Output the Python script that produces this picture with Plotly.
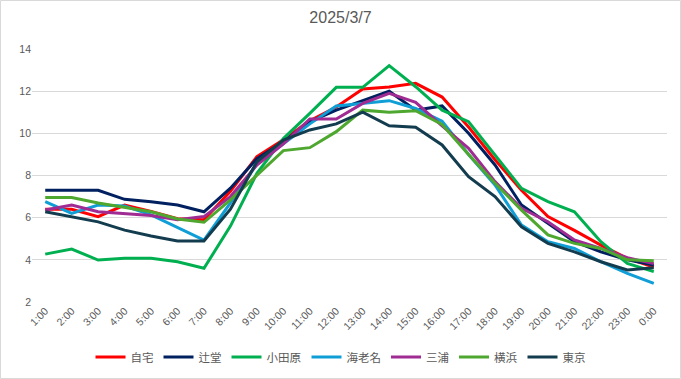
import plotly.graph_objects as go

hours = ["1:00","2:00","3:00","4:00","5:00","6:00","7:00","8:00","9:00","10:00","11:00","12:00",
         "13:00","14:00","15:00","16:00","17:00","18:00","19:00","20:00","21:00","22:00","23:00","0:00"]

jitaku   = [6.4, 6.4, 6.05, 6.6, 6.3, 5.95, 5.9, 7.25, 8.9, 9.7, 10.6, 11.25, 12.1, 12.2, 12.37, 11.72, 10.3, 8.75, 7.3, 6.05, 5.4, 4.7, 4.07, 3.66]
tsujido  = [7.3, 7.3, 7.3, 6.87, 6.76, 6.6, 6.28, 7.4, 8.8, 9.6, 10.55, 11.1, 11.55, 12.0, 11.1, 11.3, 10.0, 8.5, 6.6, 5.73, 4.86, 4.38, 4.0, 3.75]
odawara  = [4.27, 4.51, 3.99, 4.07, 4.07, 3.91, 3.6, 5.6, 8.1, 9.75, 10.95, 12.18, 12.18, 13.21, 12.21, 11.1, 10.55, 8.95, 7.39, 6.76, 6.28, 4.86, 3.83, 3.44]
ebina    = [6.76, 6.2, 6.6, 6.55, 6.13, 5.54, 4.94, 6.7, 8.55, 9.5, 10.45, 11.3, 11.42, 11.55, 11.18, 10.58, 9.0, 7.55, 5.65, 4.86, 4.54, 3.91, 3.36, 2.88]
miura    = [6.36, 6.6, 6.28, 6.2, 6.1, 5.9, 6.05, 7.0, 8.5, 9.5, 10.68, 10.68, 11.42, 11.9, 11.47, 10.35, 9.29, 7.71, 6.44, 5.81, 4.94, 4.54, 4.1, 3.82]
yokohama = [6.96, 6.96, 6.7, 6.49, 6.28, 5.94, 5.78, 6.84, 8.0, 9.18, 9.32, 10.08, 11.1, 11.0, 11.07, 10.42, 9.0, 7.63, 6.36, 5.18, 4.78, 4.54, 4.0, 3.96]
tokyo    = [6.28, 6.05, 5.8, 5.41, 5.13, 4.89, 4.89, 6.4, 8.65, 9.68, 10.16, 10.45, 11.0, 10.36, 10.29, 9.45, 7.94, 7.0, 5.57, 4.78, 4.38, 3.91, 3.52, 3.62]

series = [
    ("自宅", jitaku, "#FF0000"),
    ("辻堂", tsujido, "#002060"),
    ("小田原", odawara, "#00B050"),
    ("海老名", ebina, "#0F9ED5"),
    ("三浦", miura, "#A02B93"),
    ("横浜", yokohama, "#4EA72E"),
    ("東京", tokyo, "#133D4F"),
]

y_ticks = [2, 4, 6, 8, 10, 12, 14]

fig = go.Figure()
for name, vals, color in series:
    fig.add_trace(go.Scatter(x=hours, y=vals, mode="lines", name=name,
                             line=dict(color=color, width=3)))

fig.update_layout(
    width=681, height=379,
    margin=dict(l=32, r=14, t=49, b=77, autoexpand=False),
    paper_bgcolor="white", plot_bgcolor="white",
    title=dict(text="2025/3/7", x=0.5, xanchor="center", y=0.955, yanchor="middle",
               font=dict(family="Liberation Sans, Arial", size=16, color="#595959")),
    font=dict(family="Liberation Sans, Arial", size=11, color="#595959"),
    showlegend=True,
    legend=dict(orientation="h", x=0.5, xanchor="center", xref="container",
                y=(379 - 357) / 379, yanchor="middle", yref="container",
                font=dict(family="Noto Sans CJK JP", size=11.5, color="#595959"),
                itemwidth=30, tracegroupgap=0),
    xaxis=dict(type="category", range=[-0.5, 23.5], tickangle=-45, showgrid=False, showline=False,
               ticks="", tickfont=dict(size=10.5, color="#595959"), zeroline=False,
               automargin=False),
    yaxis=dict(range=[2, 14], tickvals=y_ticks, showgrid=True, gridcolor="#D9D9D9",
               gridwidth=1, zeroline=False, showline=False, ticks="",
               tickfont=dict(size=10.5, color="#595959"), automargin=False),
    shapes=[dict(type="rect", xref="paper", yref="paper",
                 x0=-31.5/635, x1=1+13.5/635, y0=-76.5/253, y1=1+48.5/253,
                 line=dict(color="#D9D9D9", width=1), fillcolor="rgba(0,0,0,0)", layer="below")],
)

fig.write_html("out.html", post_script="document.body.style.margin='0';",
               config={"displayModeBar": False})
